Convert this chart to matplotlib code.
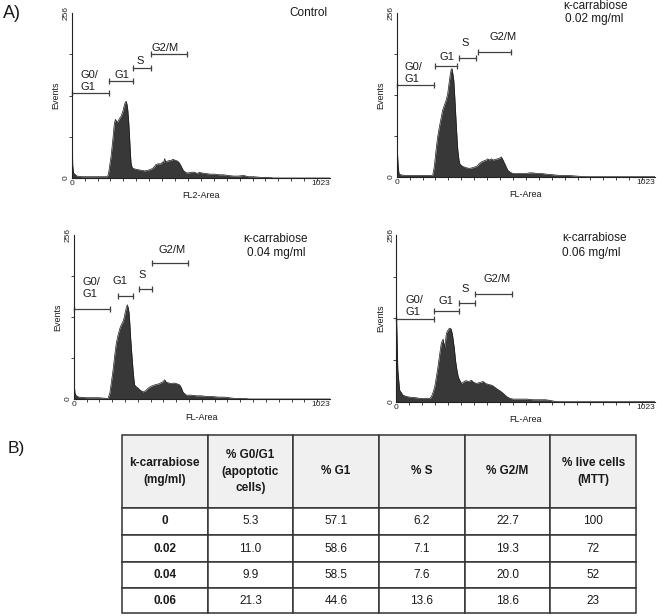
import matplotlib.pyplot as plt
import numpy as np

plt.rcParams['font.family'] = ['Liberation Sans', 'DejaVu Sans']

W, H = 657, 616

# ---- DNA histograms: channel (0-1023) vs events ----
ctrl_ch = [0, 2, 4, 7, 12, 20, 40, 80, 120, 140, 145, 150, 156, 163, 169, 173, 176, 180,
           186, 192, 196, 203, 209, 213, 216, 219, 222, 226, 229, 232, 235, 239, 242, 250,
           262, 275, 290, 301, 310, 321, 328, 334, 342, 348, 354, 360, 364, 368, 372, 378,
           386, 394, 400, 407, 414, 420, 427, 434, 440, 447, 453, 465, 476, 486, 497, 505,
           513, 530, 548, 566, 585, 600, 619, 640, 660, 680, 700, 720, 750, 780, 800, 1023]
ctrl_ev = [116, 60, 20, 8, 6, 3, 2, 2, 2, 2, 5, 18, 34, 60, 85, 91, 89, 86,
           90, 94, 96, 104, 114, 118, 119, 114, 106, 86, 65, 42, 23, 17, 15, 14,
           13, 12, 11, 12, 13, 15, 18, 21, 22, 22, 22, 25, 24, 30, 25, 26,
           27, 27, 29, 28, 27, 26, 23, 18, 13, 10, 8, 8, 9, 9, 7, 9,
           8, 7, 6, 6, 5, 5, 4, 3, 3, 4, 2, 2, 1, 1, 0, 0]

c002_ch = [0, 2, 4, 6, 9, 15, 30, 60, 100, 140, 143, 149, 156, 162, 169, 176, 182, 189,
           196, 202, 209, 213, 216, 219, 222, 226, 230, 235, 239, 242, 246, 249, 255, 262,
           275, 288, 300, 315, 322, 328, 340, 354, 360, 368, 375, 381, 390, 400, 408, 414,
           420, 427, 434, 440, 450, 460, 480, 500, 513, 525, 539, 555, 575, 592, 620, 645,
           680, 711, 750, 1023]
c002_ev = [130, 46, 30, 16, 5, 3, 2, 2, 2, 2, 3, 16, 42, 62, 78, 92, 104, 112,
           120, 130, 151, 162, 168, 169, 162, 151, 125, 88, 60, 42, 28, 21, 18, 16,
           14, 13, 14, 16, 18, 21, 24, 26, 28, 26, 28, 26, 27, 28, 29, 31,
           27, 21, 15, 10, 7, 5, 5, 5, 5, 6, 6, 5, 5, 4, 3, 2,
           2, 1, 0, 0]

c004_ch = [0, 2, 5, 10, 20, 50, 100, 130, 137, 144, 150, 157, 163, 170, 177, 184, 190, 197,
           202, 206, 210, 214, 218, 221, 224, 227, 232, 237, 240, 243, 250, 257, 265, 277,
           287, 297, 310, 323, 333, 343, 350, 357, 363, 370, 380, 390, 400, 410, 417, 423,
           430, 436, 443, 450, 470, 490, 509, 530, 550, 576, 600, 620, 642, 680, 700, 1023]
c004_ev = [55, 25, 9, 5, 3, 2, 2, 1, 1, 9, 25, 45, 66, 87, 100, 110, 116, 121,
           128, 136, 142, 147, 142, 134, 118, 97, 70, 45, 32, 22, 19, 17, 14, 11,
           13, 17, 20, 22, 23, 24, 26, 27, 30, 26, 25, 24, 25, 24, 23, 22,
           17, 11, 8, 6, 6, 5, 5, 4, 4, 3, 3, 2, 1, 1, 0, 0]

c006_ch = [0, 1, 3, 6, 13, 26, 40, 53, 80, 93, 110, 132, 139, 145, 152, 158, 165, 172,
           178, 185, 189, 192, 196, 198, 203, 208, 212, 216, 218, 222, 225, 230, 234, 240,
           245, 252, 258, 265, 272, 278, 288, 297, 305, 317, 325, 335, 344, 352, 361, 370,
           380, 390, 397, 405, 416, 425, 436, 450, 463, 480, 500, 516, 540, 569, 590, 608,
           620, 640, 1023]
c006_ev = [195, 130, 99, 49, 18, 10, 8, 7, 6, 5, 5, 5, 8, 14, 23, 37, 54, 74,
           90, 96, 88, 84, 98, 105, 109, 112, 113, 112, 110, 103, 95, 80, 64, 48,
           38, 32, 28, 30, 32, 32, 31, 33, 30, 28, 29, 30, 31, 28, 27, 26,
           25, 22, 20, 18, 15, 12, 8, 5, 4, 4, 4, 4, 3, 3, 3, 2,
           1, 0, 0]

# gates: (first channel, last channel, marker level in events)
gate_names = ["G0/G1", "G1", "S", "G2/M"]
ctrl_gates = [(0, 149, 132), (148, 242, 151), (243, 313, 170), (313, 456, 192)]
c002_gates = [(0, 148, 144), (152, 240, 173), (247, 313, 186), (321, 453, 195)]
c004_gates = [(0, 145, 140), (178, 236, 161), (262, 312, 172), (314, 458, 213)]
c006_gates = [(0, 148, 127), (151, 246, 140), (247, 312, 152), (312, 456, 166)]

# ---- table B ----
col_labels = ["k-carrabiose\n(mg/ml)", "% G0/G1\n(apoptotic\ncells)", "% G1", "% S",
              "% G2/M", "% live cells\n(MTT)"]
conc = ["0", "0.02", "0.04", "0.06"]
pct_g0g1 = [5.3, 11.0, 9.9, 21.3]
pct_g1 = [57.1, 58.6, 58.5, 44.6]
pct_s = [6.2, 7.1, 7.6, 13.6]
pct_g2m = [22.7, 19.3, 20.0, 18.6]
pct_live = [100, 72, 52, 23]


def px_box(x0, x1, ytop, ybot):
    return [x0 / W, 1 - ybot / H, (x1 - x0) / W, (ybot - ytop) / H]


fig = plt.figure(figsize=(W / 100, H / 100), dpi=100)
fig.patch.set_facecolor('white')


def px_text(x, y, s, **kw):
    kw.setdefault('color', '#1a1a1a')
    fig.text(x / W, 1 - y / H, s, **kw)


panels = [
    dict(ch=ctrl_ch, ev=ctrl_ev, gates=ctrl_gates, xlabel="FL2-Area",
         box=(71.7, 330, 13, 178), labels=[(33, 150), (199, 160), (271, 181), (370, 202)]),
    dict(ch=c002_ch, ev=c002_ev, gates=c002_gates, xlabel="FL-Area",
         box=(396.7, 655, 13, 176.7), labels=[(29, 162), (197, 187), (271, 209), (421, 218)]),
    dict(ch=c004_ch, ev=c004_ev, gates=c004_gates, xlabel="FL-Area",
         box=(73.7, 330, 235, 399), labels=[(36, 173), (185, 184), (272, 194), (394, 233)]),
    dict(ch=c006_ch, ev=c006_ev, gates=c006_gates, xlabel="FL-Area",
         box=(396.3, 655, 235, 401.7), labels=[(36, 147), (198, 155), (274, 173), (397, 188)]),
]

for p in panels:
    x0, x1, yt, yb = p["box"]
    ax = fig.add_axes(px_box(x0, x1, yt, yb))
    ax.fill_between(p["ch"], p["ev"], color='#383838', lw=0)
    ax.plot(p["ch"], p["ev"], color='#1a1a1a', lw=0.5)
    ax.set_xlim(0, 1023)
    ax.set_ylim(0, 256)
    for s in ("top", "right"):
        ax.spines[s].set_visible(False)
    for s in ("left", "bottom"):
        ax.spines[s].set_linewidth(0.8)
        ax.spines[s].set_color('#222222')

    ax.set_yticks([0, 256])
    ax.set_yticklabels(["0", "256"], rotation=90, va='center')
    ax.set_yticks([64, 128, 192], minor=True)
    ax.set_xticks([0, 1023])
    ax.set_xticklabels(["0", "1023"])
    ax.xaxis.get_ticklabels()[1].set_ha('right')
    ax.set_xticks(np.arange(1, 20) * 1023 / 20, minor=True)
    ax.tick_params(which='major', length=0, labelsize=6, pad=1.5, colors='#222222')
    ax.tick_params(which='minor', length=2.2, width=0.6, direction='out', colors='#222222')

    for (a, b, lvl), name, (lx, ly) in zip(p["gates"], gate_names, p["labels"]):
        ax.plot([a, b], [lvl, lvl], color='#404040', lw=0.9, marker='|',
                markersize=4.5, markeredgewidth=0.9, clip_on=False)
        if name == "G0/G1":
            ax.text(lx, ly, "G0/\nG1", ha='left', va='center', fontsize=8,
                    linespacing=1.25, color='#1a1a1a')
        else:
            ax.text(lx, ly, name, ha='center', va='center', fontsize=8, color='#1a1a1a')

    px_text(x0 - 16, (yt + yb) / 2, "Events", rotation=90, ha='center', va='center', fontsize=6.5)
    px_text((x0 + x1) / 2, yb + 18, p["xlabel"], ha='center', va='center', fontsize=6.5)

# condition labels
px_text(328, 13, "Control", ha='right', va='center', fontsize=8.5)
px_text(595, 6, "\u03ba-carrabiose", ha='center', va='center', fontsize=8.5)
px_text(594, 19, "0.02 mg/ml", ha='center', va='center', fontsize=8.5)
px_text(276, 239, "\u03ba-carrabiose", ha='center', va='center', fontsize=8.5)
px_text(276, 253, "0.04 mg/ml", ha='center', va='center', fontsize=8.5)
px_text(562, 238, "\u03ba-carrabiose", ha='left', va='center', fontsize=8.5)
px_text(562, 253, "0.06 mg/ml", ha='left', va='center', fontsize=8.5)

px_text(3, 14, "A)", ha='left', va='center', fontsize=13)
px_text(8, 448, "B)", ha='left', va='center', fontsize=12.5)

# table
tab_ax = fig.add_axes(px_box(122, 636, 435, 613))
tab_ax.axis('off')
cell_text = [[conc[i], f"{pct_g0g1[i]:.1f}", f"{pct_g1[i]:.1f}", f"{pct_s[i]:.1f}",
              f"{pct_g2m[i]:.1f}", f"{pct_live[i]}"] for i in range(len(conc))]
tbl = tab_ax.table(cellText=cell_text, colLabels=col_labels, cellLoc='center',
                   bbox=[0, 0, 1, 1])
tbl.auto_set_font_size(False)
row_h = [73, 27, 27, 26, 25]
for (r, c), cell in tbl.get_celld().items():
    cell.set_height(row_h[r])
    cell.set_edgecolor('#333333')
    cell.set_linewidth(1.1)
    t = cell.get_text()
    t.set_fontsize(8.5)
    t.set_color('#1a1a1a')
    if r == 0:
        cell.set_facecolor('#f0f0f0')
        t.set_fontweight('bold')
        t.set_linespacing(1.5)
    elif c == 0:
        t.set_fontweight('bold')

fig.savefig("out.png", dpi=100, facecolor='white')
